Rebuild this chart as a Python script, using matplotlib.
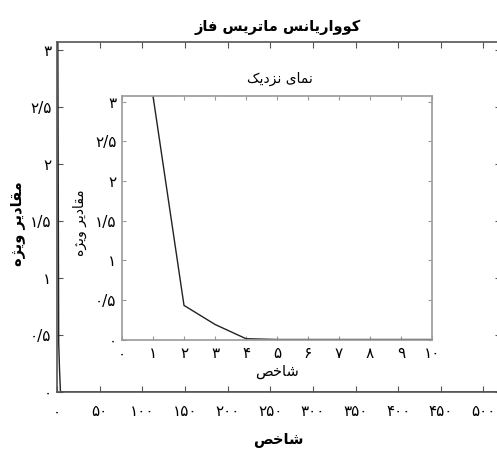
import matplotlib
matplotlib.use("Agg")
import matplotlib.pyplot as plt

# Eigenvalues of the phase covariance matrix (index 1..N)
eig_head = [3.07, 0.43, 0.19, 0.01]
n_total = 520
eig_vals = eig_head + [0.0] * (n_total - len(eig_head))
idx = list(range(1, n_total + 1))

main_xticks = [0, 50, 100, 150, 200, 250, 300, 350, 400, 450, 500]
main_yticks = [0, 0.5, 1, 1.5, 2, 2.5, 3]
zoom_xticks = list(range(0, 11))
zoom_yticks = [0, 0.5, 1, 1.5, 2, 2.5, 3]

title_main = "کوواریانس ماتریس فاز"
title_zoom = "نمای نزدیک"
xlabel_txt = "شاخص"
ylabel_txt = "مقادیر ویژه"

# Arabic/Persian presentation forms: (isolated, final, initial, medial)
FORMS = {
    'ا': ('\uFE8D', '\uFE8E', None, None),
    'ت': ('\uFE95', '\uFE96', '\uFE97', '\uFE98'),
    'خ': ('\uFEA5', '\uFEA6', '\uFEA7', '\uFEA8'),
    'د': ('\uFEA9', '\uFEAA', None, None),
    'ر': ('\uFEAD', '\uFEAE', None, None),
    'ز': ('\uFEAF', '\uFEB0', None, None),
    'س': ('\uFEB1', '\uFEB2', '\uFEB3', '\uFEB4'),
    'ش': ('\uFEB5', '\uFEB6', '\uFEB7', '\uFEB8'),
    'ص': ('\uFEB9', '\uFEBA', '\uFEBB', '\uFEBC'),
    'ف': ('\uFED1', '\uFED2', '\uFED3', '\uFED4'),
    'ق': ('\uFED5', '\uFED6', '\uFED7', '\uFED8'),
    'م': ('\uFEE1', '\uFEE2', '\uFEE3', '\uFEE4'),
    'ن': ('\uFEE5', '\uFEE6', '\uFEE7', '\uFEE8'),
    'ه': ('\uFEE9', '\uFEEA', '\uFEEB', '\uFEEC'),
    'و': ('\uFEED', '\uFEEE', None, None),
    'ی': ('\uFBFC', '\uFBFD', '\uFBFE', '\uFBFF'),
    'ک': ('\uFB8E', '\uFB8F', '\uFB90', '\uFB91'),
    'ژ': ('\uFB8A', '\uFB8B', None, None),
}


def shape(text):
    out = []
    for i, ch in enumerate(text):
        if ch not in FORMS:
            out.append(ch)
            continue
        iso, fin, ini, med = FORMS[ch]
        prev = text[i - 1] if i > 0 else ''
        nxt = text[i + 1] if i + 1 < len(text) else ''
        jp = prev in FORMS and FORMS[prev][2] is not None
        jn = ini is not None and nxt in FORMS
        if jp and jn:
            out.append(med)
        elif jp:
            out.append(fin)
        elif jn:
            out.append(ini)
        else:
            out.append(iso)
    return ''.join(reversed(out))


def fa_num(v, sep='/'):
    s = ('%g' % v).replace('.', sep)
    return s.translate(str.maketrans('0123456789', '۰۱۲۳۴۵۶۷۸۹'))


plt.rcParams['font.family'] = ['DejaVu Sans']

fig = plt.figure(figsize=(4.97, 4.51), dpi=100)

# main axes (runs off the right edge like the reference)
ax = fig.add_axes([57 / 497, 1 - 392 / 451, 443.5 / 497, 350 / 451])
ax.plot(idx, eig_vals, color='#222222', lw=1.0)
ax.set_xlim(0, 520)
ax.set_ylim(0, 3.07)
ax.set_xticks(main_xticks)
ax.set_xticklabels([fa_num(v) for v in main_xticks], fontsize=11)
ax.set_yticks(main_yticks)
ax.set_yticklabels([fa_num(v) for v in main_yticks], fontsize=11)
ax.tick_params(direction='in', top=True, right=True, length=4, width=0.8, colors='#555555',
               labelcolor='black')
ax.tick_params(axis='x', pad=9)
ax.tick_params(axis='y', pad=4)
for s in ax.spines.values():
    s.set_color('#555555')
    s.set_linewidth(1.2)
ax.text(0.497, 1.042, shape(title_main), transform=ax.transAxes, ha='center', va='center',
        fontsize=10.5, fontweight='bold')
ax.set_xlabel(shape(xlabel_txt), fontsize=10.5, fontweight='bold', va='center')
ax.xaxis.set_label_coords(0.5, -0.137)
ax.set_ylabel(shape(ylabel_txt), fontsize=10.5, fontweight='bold', va='center')
ax.yaxis.set_label_coords(-0.088, 0.48)

# zoomed inset
axz = fig.add_axes([122 / 497, 1 - 339.5 / 451, 310 / 497, 243.5 / 451])
axz.plot(idx, eig_vals, color='#222222', lw=1.0)
axz.set_xlim(0, 10)
axz.set_ylim(0, 3.07)
axz.set_xticks(zoom_xticks)
axz.set_xticklabels([fa_num(v) for v in zoom_xticks], fontsize=11)
axz.set_yticks(zoom_yticks)
axz.set_yticklabels([fa_num(v) for v in zoom_yticks], fontsize=11)
axz.tick_params(direction='in', top=True, right=True, length=3, width=0.8, colors='#999999',
                labelcolor='black')
axz.tick_params(axis='x', pad=5)
axz.tick_params(axis='y', pad=4)
for s in axz.spines.values():
    s.set_color('#9a9a9a')
    s.set_linewidth(1.2)
axz.text(0.51, 1.07, shape(title_zoom), transform=axz.transAxes, ha='center', va='center',
         fontsize=10)
axz.set_xlabel(shape(xlabel_txt), fontsize=10.5, va='center')
axz.xaxis.set_label_coords(0.5, -0.13)
axz.set_ylabel(shape(ylabel_txt), fontsize=10, va='center')
axz.yaxis.set_label_coords(-0.135, 0.48)

fig.savefig('out.png', dpi=100)
